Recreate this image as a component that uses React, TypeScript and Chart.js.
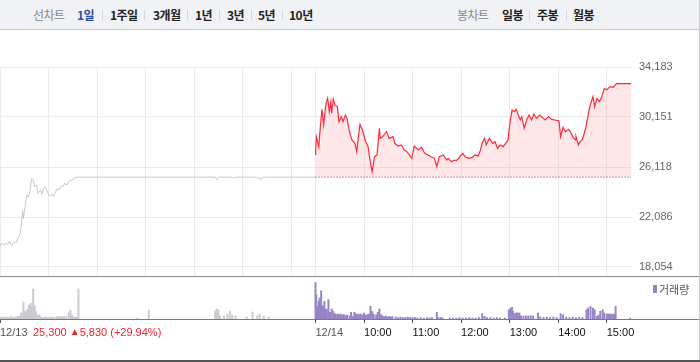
import React, { useEffect, useRef } from 'react';
import { Chart, registerables } from 'chart.js';

Chart.register(...registerables);

// ---------- data ----------
const PREV_CLOSE = 25300; // 12/13 close
const CHANGE = 5830;
const CHANGE_PCT = '+29.94%';

const priceTicks = [18054, 22086, 26118, 30151, 34183];
const gridMinutes = [0, 60, 120, 180, 240, 300, 360, 390, 450, 510, 570, 630, 690, 750];
const axisTickMinutes = [0, 390, 450, 510, 570, 630, 690, 750];
const axisTickLabels = ['12/13', '12/14', '10:00', '11:00', '12:00', '13:00', '14:00', '15:00'];

// 12/13 price: [minutes since 09:00, price]
const prevPrice: [number, number][] = [
  [0, 19690], [2, 19960], [5, 19830], [7, 19960], [10, 19910], [12, 20150], [14, 19750], [17, 20020],
  [20, 20020], [23, 20500], [25, 20770], [27, 21840], [28, 22600], [29, 21980], [31, 22920], [33, 23860],
  [35, 23730], [37, 24130], [39, 25200], [41, 25070], [43, 24530], [45, 24670], [47, 24000], [50, 24260],
  [52, 23940], [54, 24400], [56, 24530], [58, 24210], [61, 23780], [64, 23940], [66, 23730], [68, 24000],
  [71, 24400], [73, 24260], [76, 24590], [78, 24530], [80, 24800], [83, 24670], [85, 24940], [87, 25070],
  [89, 25020], [91, 25200], [94, 25280], [97, 25300], [266, 25300], [268, 25070], [270, 25300],
  [287, 25300], [289, 25200], [291, 25300], [316, 25300], [318, 25200], [320, 25300], [322, 25070],
  [324, 25300], [326, 25250], [328, 25300], [390, 25300],
];

// 12/14 price: [minutes since 09:00, price]
const todayPrice: [number, number][] = [
  [0, 27090], [1, 28570], [4, 27760], [6, 29370], [8, 30770], [10, 29510], [13, 31250], [15, 31660],
  [17, 30580], [19, 31390], [20, 30450], [22, 31580], [24, 31120], [27, 30980], [29, 29770], [32, 30180],
  [34, 29770], [37, 30310], [39, 30040], [42, 28970], [45, 28300], [47, 28160], [49, 27970], [51, 27360],
  [53, 28570], [55, 29560], [58, 29100], [62, 28160], [65, 27760], [67, 26820], [70, 25740], [73, 26950],
  [76, 27090], [79, 29240], [80, 28430], [83, 28570], [88, 28970], [91, 28430], [96, 28570], [98, 28030],
  [102, 27810], [106, 27890], [110, 27490], [113, 27360], [119, 26820], [122, 27810], [127, 27490],
  [131, 27710], [135, 27220], [139, 27090], [143, 26950], [147, 26820], [150, 26150], [153, 26950],
  [158, 27090], [162, 26680], [164, 26820], [168, 26550], [172, 26680], [174, 26630], [177, 26820],
  [180, 27090], [182, 27220], [185, 26950], [189, 26820], [193, 26870], [197, 27090], [201, 27010],
  [204, 27490], [206, 28030], [209, 28430], [211, 27890], [215, 28430], [219, 28030], [222, 28160],
  [225, 27620], [228, 27890], [232, 27760], [235, 28030], [238, 28300], [240, 29510], [243, 30720],
  [246, 30580], [248, 30770], [253, 29910], [255, 30180], [258, 29240], [261, 29910], [264, 30310],
  [267, 29910], [270, 30390], [273, 30040], [277, 30310], [284, 29910], [288, 30180], [292, 29960],
  [296, 29910], [301, 29830], [303, 28570], [306, 29320], [309, 28970], [313, 29160], [315, 28970],
  [318, 28570], [321, 28300], [322, 28570], [325, 27890], [327, 28160], [330, 28350], [334, 29240],
  [337, 30310], [339, 30980], [343, 31790], [345, 30980], [348, 31660], [351, 31390], [354, 31790],
  [357, 32460], [360, 32330], [364, 32600], [368, 32540], [372, 32850], [390, 32850],
];

// volume (hundreds of shares): [minutes since 09:00, volume]
const prevVolume: [number, number][] = [
  [0, 20], [2, 15], [4, 20], [6, 15], [8, 20], [10, 15], [12, 20], [14, 25], [16, 15], [18, 20],
  [20, 20], [22, 25], [24, 30], [26, 60], [27, 50], [29, 170], [30, 80], [32, 70], [33, 80], [34, 100],
  [35, 80], [36, 140], [37, 110], [38, 160], [39, 120], [40, 130], [41, 300], [43, 130], [44, 80], [45, 50],
  [47, 40], [49, 40], [51, 20], [53, 15], [55, 20], [57, 20], [59, 15], [61, 20], [63, 15], [65, 20],
  [67, 15], [70, 20], [72, 25], [74, 20], [76, 25], [78, 20], [80, 25], [82, 20], [85, 60], [87, 90],
  [89, 40], [91, 20], [93, 15], [95, 20], [97, 300], [170, 10], [184, 90], [266, 80], [268, 100],
  [270, 90], [272, 30], [277, 35], [281, 50], [284, 80], [287, 40], [291, 30], [305, 20], [312, 70],
  [318, 35], [321, 50], [326, 30], [332, 20],
];

const todayVolume: [number, number][] = [
  [0, 367], [1, 240], [2, 127], [4, 177], [5, 210], [6, 143], [7, 283], [9, 133], [10, 110], [11, 177],
  [13, 100], [14, 93], [16, 193], [18, 67], [20, 100], [22, 77], [24, 53], [25, 43], [27, 50], [29, 45],
  [31, 50], [33, 40], [35, 45], [37, 35], [39, 40], [42, 30], [44, 67], [46, 27], [48, 67], [50, 50],
  [52, 50], [54, 45], [56, 50], [58, 40], [60, 60], [62, 40], [64, 43], [66, 50], [68, 127], [70, 77],
  [71, 50], [72, 43], [75, 40], [77, 67], [79, 100], [81, 43], [83, 30], [85, 25], [87, 30], [89, 20],
  [91, 25], [93, 20], [95, 25], [99, 20], [102, 15], [105, 20], [108, 15], [111, 15], [114, 20], [117, 15],
  [120, 15], [123, 15], [126, 10], [130, 15], [134, 10], [138, 15], [141, 10], [144, 15], [150, 67],
  [152, 15], [155, 15], [157, 10], [166, 10], [170, 10], [174, 10], [178, 15], [182, 10], [186, 10],
  [190, 15], [194, 10], [198, 10], [202, 15], [206, 53], [209, 27], [212, 15], [216, 15], [220, 10],
  [224, 15], [228, 10], [234, 10], [239, 93], [241, 110], [243, 117], [244, 77], [246, 53], [248, 60],
  [250, 60], [252, 60], [254, 33], [257, 30], [260, 33], [263, 30], [266, 33], [269, 30], [275, 60],
  [278, 20], [282, 15], [286, 20], [290, 15], [294, 20], [298, 15], [303, 53], [306, 43], [310, 20],
  [314, 15], [318, 20], [322, 15], [326, 20], [330, 15], [335, 93], [337, 110], [340, 127], [343, 110],
  [345, 93], [348, 27], [350, 40], [352, 77], [355, 93], [357, 60], [360, 50], [362, 50], [364, 50],
  [366, 45], [368, 50], [370, 45], [371, 127], [389, 10],
];

const rangeTabs = ['1일', '1주일', '3개월', '1년', '3년', '5년', '10년'];
const rangeTabX = [77, 110, 153, 195, 227, 258, 289];
const rangeSepX = [102, 144, 187, 219, 251, 282];
const candleTabs = ['일봉', '주봉', '월봉'];
const candleTabX = [502, 537, 573];
const candleSepX = [529, 566];

const DAY_LEN = 390;
const X_MAX = 780;
const Y_MIN = 17328;
const Y_MAX = 34183;
const VOL_MAX = 420;

const AXIS_FONT = { family: '"Liberation Sans", Arial, sans-serif', size: 11 };
const KR_FONT = '"Noto Sans CJK KR", "Noto Sans", sans-serif';

export default function App() {
  const priceRef = useRef<HTMLCanvasElement | null>(null);
  const volRef = useRef<HTMLCanvasElement | null>(null);

  useEffect(() => {
    document.body.style.margin = '0';
    const pc = new Chart(priceRef.current as HTMLCanvasElement, {
      type: 'line',
      data: {
        datasets: [
          {
            data: [{ x: DAY_LEN, y: PREV_CLOSE }, { x: X_MAX, y: PREV_CLOSE }],
            borderColor: '#555',
            borderWidth: 1,
            borderDash: [1, 2],
            pointRadius: 0,
            fill: false,
            order: 0,
          },
          {
            data: todayPrice.map(([m, v]) => ({ x: DAY_LEN + m, y: v })),
            borderColor: '#ff2b3b',
            borderWidth: 1.2,
            pointRadius: 0,
            tension: 0,
            fill: { value: PREV_CLOSE },
            backgroundColor: 'rgba(250, 90, 105, 0.15)',
            order: 1,
          },
          {
            data: prevPrice.map(([m, v]) => ({ x: m, y: v })),
            borderColor: '#c6c7cd',
            borderWidth: 1,
            pointRadius: 0,
            tension: 0,
            fill: false,
            order: 2,
          },
        ],
      },
      options: {
        animation: false,
        responsive: false,
        maintainAspectRatio: false,
        layout: { padding: { top: 36, bottom: 1, left: 0, right: 0 } },
        plugins: { legend: { display: false }, tooltip: { enabled: false } },
        scales: {
          x: {
            type: 'linear',
            min: 0,
            max: X_MAX,
            afterBuildTicks: (s: any) => { s.ticks = gridMinutes.map((v) => ({ value: v })); },
            afterFit: (s: any) => { s.height = 0; s.paddingLeft = 0; s.paddingRight = 0; },
            ticks: { display: false },
            grid: { color: '#ebebeb', drawTicks: false },
            border: { display: false },
          },
          y: {
            position: 'right',
            min: Y_MIN,
            max: Y_MAX,
            afterBuildTicks: (s: any) => { s.ticks = priceTicks.map((v) => ({ value: v })); },
            afterFit: (s: any) => { s.width = 69; s.paddingTop = 0; s.paddingBottom = 0; },
            ticks: {
              color: '#666',
              font: AXIS_FONT,
              padding: 8,
              callback: (v: any) => Number(v).toLocaleString('en-US'),
            },
            grid: { color: '#ebebeb', drawTicks: false },
            border: { display: false },
          },
        },
      },
    } as any);

    const vc = new Chart(volRef.current as HTMLCanvasElement, {
      type: 'bar',
      data: {
        datasets: [
          {
            data: prevVolume.map(([m, v]) => ({ x: m, y: v })),
            backgroundColor: '#c9cbd0',
            barThickness: 1.3,
            grouped: false,
          },
          {
            data: todayVolume.map(([m, v]) => ({ x: DAY_LEN + m, y: v })),
            backgroundColor: '#9784c5',
            barThickness: 1.3,
            grouped: false,
          },
        ],
      },
      options: {
        animation: false,
        responsive: false,
        maintainAspectRatio: false,
        layout: { padding: 0 },
        plugins: { legend: { display: false }, tooltip: { enabled: false } },
        scales: {
          x: {
            type: 'linear',
            min: 0,
            max: X_MAX,
            offset: false,
            afterBuildTicks: (s: any) => { s.ticks = axisTickMinutes.map((v) => ({ value: v })); },
            afterFit: (s: any) => { s.height = 41; s.paddingLeft = 0; s.paddingRight = 0; },
            ticks: {
              align: 'start',
              autoSkip: false,
              maxRotation: 0,
              padding: 3,
              font: AXIS_FONT,
              color: (ctx: any) => (ctx.index < 2 ? '#555' : '#111'),
              callback: (_v: any, i: number) => axisTickLabels[i],
            },
            grid: { drawOnChartArea: false, drawTicks: true, tickLength: 4, color: '#555', offset: false },
            border: { display: false },
          },
          y: {
            position: 'right',
            min: 0,
            max: VOL_MAX,
            afterFit: (s: any) => { s.width = 69; s.paddingTop = 0; s.paddingBottom = 0; },
            ticks: { display: false },
            grid: { display: false },
            border: { display: false },
          },
        },
      },
    } as any);

    return () => {
      pc.destroy();
      vc.destroy();
    };
  }, []);

  const tabText = (t: string, x: number, color: string, bold: boolean) => (
    <span
      key={t + x}
      style={{
        position: 'absolute', left: x, top: 6, lineHeight: '18px', fontSize: 12,
        fontWeight: bold ? 700 : 400, color, whiteSpace: 'nowrap', letterSpacing: '-0.5px',
      }}
    >
      {t}
    </span>
  );
  const sep = (x: number) => (
    <div key={'s' + x} style={{ position: 'absolute', left: x, top: 10, width: 1, height: 10, background: '#d6d7db' }} />
  );

  return (
    <div style={{ position: 'absolute', left: 0, top: 0, width: 700, height: 362, background: '#fff', fontFamily: KR_FONT, overflow: 'hidden' }}>
      <div style={{ position: 'absolute', left: 0, top: 0, width: 699, height: 29, background: '#f1f2f6', borderBottom: '1px solid #c8c9cd' }}>
        {tabText('선차트', 33, '#888', false)}
        {rangeTabs.map((t, i) => tabText(t, rangeTabX[i], i === 0 ? '#2c4fae' : '#222', true))}
        {rangeSepX.map(sep)}
        {tabText('봉차트', 457, '#888', false)}
        {candleTabs.map((t, i) => tabText(t, candleTabX[i], '#222', true))}
        {candleSepX.map(sep)}
      </div>
      <canvas ref={priceRef} width={700} height={246} style={{ position: 'absolute', left: 0, top: 31, width: 700, height: 246 }} />
      <canvas ref={volRef} width={700} height={83} style={{ position: 'absolute', left: 0, top: 277, width: 700, height: 83 }} />
      <div style={{ position: 'absolute', left: 0, top: 276, width: 699, height: 1, background: '#8c8c8c' }} />
      <div style={{ position: 'absolute', left: 0, top: 319, width: 699, height: 1, background: '#7a7a7a' }} />
      <div style={{ position: 'absolute', left: 699, top: 0, width: 1, height: 360, background: '#c8c9cd' }} />
      <div style={{ position: 'absolute', left: 0, top: 360, width: 700, height: 2, background: '#555' }} />
      <div style={{ position: 'absolute', left: 653, top: 285, width: 4, height: 8, background: '#9784c5' }} />
      <span style={{ position: 'absolute', left: 659, top: 281, fontSize: 11, lineHeight: '16px', color: '#555', whiteSpace: 'nowrap' }}>거래량</span>
      <span style={{ position: 'absolute', left: 33, top: 324, fontSize: 11, lineHeight: '16px', color: '#f0242f', whiteSpace: 'nowrap', fontFamily: AXIS_FONT.family }}>
        {PREV_CLOSE.toLocaleString('en-US')} <span style={{ fontSize: 10, position: 'relative', top: -1 }}>▲</span>{CHANGE.toLocaleString('en-US')} ({CHANGE_PCT})
      </span>
    </div>
  );
}
